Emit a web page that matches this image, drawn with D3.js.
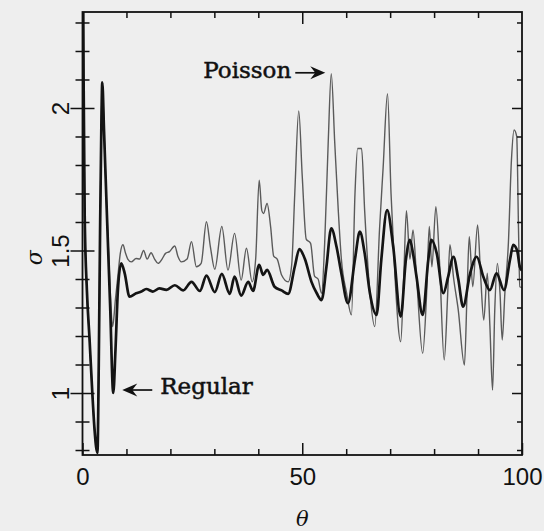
<!DOCTYPE html>
<html><head><meta charset="utf-8">
<script src="https://cdn.jsdelivr.net/npm/d3@7"></script>
<style>html,body{margin:0;padding:0;background:#eeeeee;} svg{display:block}</style>
</head><body>
<svg id="chart" width="544" height="531"></svg>
<script>
// ---- data ----
const xTickMajor = [0, 50, 100];
const xTickMinor = [10, 20, 30, 40, 60, 70, 80, 90];
const yTickMajor = [1, 1.5, 2];
const yTickMinor = [0.8, 0.9, 1.1, 1.2, 1.3, 1.4, 1.6, 1.7, 1.8, 1.9, 2.1, 2.2, 2.3];

const thetaPoisson = [0, 0.25, 0.5, 1.0, 1.6, 2.2, 2.7, 3.1, 3.4, 3.7, 4.0, 4.3, 4.5,
  4.9, 5.5, 6.3, 6.85, 7.5, 8.05, 8.6, 9.2, 9.8, 10.3, 11.1, 12.2, 13.0, 13.9, 14.7, 15.6, 16.4, 17.2, 18.1, 18.9, 19.8,
  21.0, 21.7, 22.5, 23.8, 24.8, 25.9, 27.0, 28.2, 29.1, 30.1, 31.7, 33.1, 34.6, 36.1, 37.3, 38.6, 39.4, 40.2, 40.8, 41.2,
  42.0, 42.8, 43.5, 44.3, 45.3, 46.8, 47.6, 48.3, 49.2, 50.0, 50.9, 51.9, 52.8, 53.6, 54.4, 55.1, 55.9, 56.6, 57.4, 58.2,
  58.9, 60.1, 61.2, 62.0, 62.6, 63.5, 64.2, 65.4, 66.5, 67.6, 68.4, 69.4, 70.2, 71.1, 72.4, 73.1, 73.7, 74.5, 75.2, 76.0,
  77.4, 78.3, 78.9, 79.5, 80.4, 81.2, 82.3, 83.1, 83.6, 84.4, 85.5, 86.9, 87.5, 88.0, 88.8, 89.9, 90.6, 91.3, 92.1, 92.7,
  93.3, 93.8, 94.4, 95.0, 95.5, 96.1, 96.9, 97.6, 98.2, 98.8, 99.2, 99.5, 100];
const sigmaPoisson = [2.9, 2.1, 1.62, 1.36, 1.19, 1.01, 0.88, 0.81, 0.79, 1.1, 1.57, 1.95, 2.09,
  1.92, 1.65, 1.36, 1.233, 1.33, 1.41, 1.49, 1.52, 1.49, 1.47, 1.46, 1.472, 1.47, 1.50, 1.47, 1.492, 1.47, 1.455, 1.47, 1.49, 1.496,
  1.516, 1.48, 1.46, 1.47, 1.531, 1.443, 1.455, 1.601, 1.513, 1.434, 1.584, 1.431, 1.56, 1.396, 1.508, 1.39, 1.47, 1.747, 1.64, 1.63,
  1.665, 1.584, 1.48, 1.47, 1.414, 1.39, 1.45, 1.70, 1.99, 1.76, 1.54, 1.525, 1.41, 1.40, 1.35, 1.525, 1.876, 2.12, 1.876, 1.64,
  1.47, 1.35, 1.274, 1.70, 1.858, 1.858, 1.64, 1.35, 1.233, 1.58, 1.79, 2.05, 1.70, 1.408, 1.18, 1.41, 1.64, 1.47, 1.572, 1.408,
  1.139, 1.35, 1.584, 1.443, 1.654, 1.47, 1.116, 1.35, 1.52, 1.408, 1.291, 1.098, 1.35, 1.548, 1.373, 1.59, 1.408, 1.256, 1.42, 1.233,
  1.01, 1.29, 1.455, 1.35, 1.186, 1.35, 1.525, 1.818, 1.923, 1.90, 1.58, 1.373, 1.37];

const thetaRegular = [0, 0.25, 0.5, 1.0, 1.6, 2.2, 2.7, 3.1, 3.4, 3.7, 4.0, 4.3, 4.5,
  4.9, 5.5, 6.3, 7.0, 7.5, 8.05, 8.8, 9.6, 10.7, 12.2, 13.4, 14.5, 16.0, 17.5, 19.1, 21.0, 22.9, 24.8, 26.7, 28.2, 30.1,
  31.7, 33.5, 34.6, 36.1, 37.7, 38.8, 40.2, 41.1, 42.0, 43.7, 45.3, 46.8, 48.3, 49.35, 50.6, 52.1, 53.3, 54.4, 55.5, 56.6,
  57.8, 58.9, 60.4, 62.0, 63.1, 64.2, 65.4, 66.9, 68.0, 69.3, 70.7, 72.4, 73.6, 74.5, 75.2, 76.0, 77.4, 78.7, 79.4, 80.6,
  82.1, 83.2, 84.4, 85.5, 86.6, 88.2, 89.7, 91.2, 92.7, 94.2, 95.9, 97.3, 98.0, 98.9, 99.5, 100];
const sigmaRegular = [2.9, 2.1, 1.62, 1.36, 1.19, 1.01, 0.88, 0.81, 0.79, 1.1, 1.57, 1.95, 2.09,
  1.92, 1.65, 1.3, 1.0, 1.15, 1.36, 1.455, 1.42, 1.338, 1.35, 1.356, 1.365, 1.356, 1.367, 1.362, 1.378, 1.36, 1.39, 1.358, 1.412, 1.354,
  1.418, 1.348, 1.408, 1.342, 1.39, 1.358, 1.45, 1.414, 1.432, 1.373, 1.36, 1.348, 1.443, 1.505, 1.47, 1.39, 1.35, 1.326, 1.443, 1.578,
  1.513, 1.42, 1.315, 1.47, 1.566, 1.49, 1.35, 1.274, 1.47, 1.642, 1.513, 1.268, 1.47, 1.537, 1.49, 1.408, 1.274, 1.47, 1.537, 1.49,
  1.35, 1.408, 1.478, 1.40, 1.303, 1.42, 1.478, 1.408, 1.361, 1.42, 1.361, 1.47, 1.52, 1.50, 1.443, 1.43];

// ---- layout ----
const svg = d3.select("#chart");
const L = 82.5, R = 522, T = 12, B = 455;
const x = d3.scaleLinear().domain([0, 100]).range([L, R]);
const y = d3.scaleLinear().domain([0.7825, 2.3368]).range([B, T]);
const sans = "'Liberation Sans', Arial, Helvetica, sans-serif";
const serif = "'DejaVu Serif', serif";

svg.append("defs").append("clipPath").attr("id", "clip")
  .append("rect").attr("x", L).attr("y", T).attr("width", R - L).attr("height", B - T);

// ---- curves ----
const line = d3.line().x(d => x(d[0])).y(d => y(d[1])).curve(d3.curveMonotoneX);
const gLines = svg.append("g").attr("clip-path", "url(#clip)");
gLines.append("path").datum(d3.zip(thetaPoisson, sigmaPoisson))
  .attr("d", line).attr("fill", "none").attr("stroke", "#5a5a5a").attr("stroke-width", 1.4)
  .attr("stroke-linejoin", "round");
gLines.append("path").datum(d3.zip(thetaRegular, sigmaRegular))
  .attr("d", line).attr("fill", "none").attr("stroke", "#141414").attr("stroke-width", 2.7)
  .attr("stroke-linejoin", "round");

// ---- frame ----
svg.append("rect").attr("x", L).attr("y", T).attr("width", R - L).attr("height", B - T)
  .attr("fill", "none").attr("stroke", "#111").attr("stroke-width", 1.8);

function styleAxis(g) {
  g.select(".domain").remove();
  g.selectAll("line").attr("stroke", "#111").attr("stroke-width", 1.5);
}

// bottom axis: labels + major ticks inward
const gB = svg.append("g").attr("transform", `translate(0,${B})`)
  .call(d3.axisBottom(x).tickValues(xTickMajor).tickSize(-12).tickFormat(d3.format("d")));
styleAxis(gB);
gB.selectAll("text").attr("y", 30).attr("dy", 0).attr("font-family", sans).attr("font-size", 24).attr("fill", "#111");
svg.append("g").attr("transform", `translate(0,${B})`)
  .call(d3.axisBottom(x).tickValues(xTickMinor).tickSize(-6).tickFormat("")).call(styleAxis);

// top axis
svg.append("g").attr("transform", `translate(0,${T})`)
  .call(d3.axisTop(x).tickValues([50]).tickSize(-12).tickFormat("")).call(styleAxis);
svg.append("g").attr("transform", `translate(0,${T})`)
  .call(d3.axisTop(x).tickValues(xTickMinor).tickSize(-6).tickFormat("")).call(styleAxis);

// left axis: ticks crossing the axis, rotated labels
const gL = svg.append("g").attr("transform", `translate(${L},0)`)
  .call(d3.axisLeft(y).tickValues(yTickMajor).tickSize(12).tickFormat(d => String(d)));
styleAxis(gL);
gL.selectAll("line").attr("x1", -12).attr("x2", 12);
gL.selectAll("text").attr("x", 0).attr("dy", 0).attr("text-anchor", "middle")
  .attr("transform", "translate(-14,0) rotate(-90)")
  .attr("font-family", sans).attr("font-size", 24).attr("fill", "#111");
const gLm = svg.append("g").attr("transform", `translate(${L},0)`)
  .call(d3.axisLeft(y).tickValues(yTickMinor).tickSize(7).tickFormat(""));
styleAxis(gLm);
gLm.selectAll("line").attr("x1", -7).attr("x2", 7);

// right axis: inward ticks
svg.append("g").attr("transform", `translate(${R},0)`)
  .call(d3.axisRight(y).tickValues(yTickMajor).tickSize(-10).tickFormat("")).call(styleAxis);
svg.append("g").attr("transform", `translate(${R},0)`)
  .call(d3.axisRight(y).tickValues(yTickMinor).tickSize(-5).tickFormat("")).call(styleAxis);

// ---- axis titles ----
svg.append("text").attr("transform", `translate(42,${(y(1.5) + y(1.45)) / 2}) rotate(-90)`)
  .attr("text-anchor", "middle").attr("font-family", serif).attr("font-style", "italic")
  .attr("font-size", 22).attr("fill", "#111").text("σ");
svg.append("text").attr("x", x(50)).attr("y", 526).attr("text-anchor", "middle")
  .attr("font-family", serif).attr("font-style", "italic").attr("font-size", 21)
  .attr("fill", "#111").text("θ");

// ---- annotations ----
function arrow(x0, y0, x1, y1) {
  const a = Math.atan2(y1 - y0, x1 - x0);
  const g = svg.append("g").attr("transform", `translate(${x1},${y1}) rotate(${a * 180 / Math.PI})`);
  const len = Math.hypot(x1 - x0, y1 - y0);
  g.append("line").attr("x1", -len).attr("y1", 0).attr("x2", -8).attr("y2", 0)
    .attr("stroke", "#111").attr("stroke-width", 1.7);
  g.append("path").attr("d", "M0,0 L-15,-6.5 L-10,0 L-15,6.5 Z").attr("fill", "#111");
}
// Poisson label points at its highest peak
const pkI = sigmaPoisson.indexOf(d3.max(sigmaPoisson.slice(13)));
const pX = x(thetaPoisson[pkI]), pY = y(sigmaPoisson[pkI]);
svg.append("text").attr("x", pX - 40).attr("y", pY + 4).attr("text-anchor", "end")
  .attr("font-family", serif).attr("font-size", 23).attr("fill", "#111")
  .attr("stroke", "#111").attr("stroke-width", 0.5).text("Poisson");
arrow(pX - 36, pY - 1, pX - 6, pY - 1);
// Regular label points at its first dip
const rX = x(7.0), rY = y(1.0);
arrow(rX + 39, rY - 3, rX + 9, rY - 3);
svg.append("text").attr("x", rX + 47).attr("y", rY + 1)
  .attr("font-family", serif).attr("font-size", 23).attr("fill", "#111")
  .attr("stroke", "#111").attr("stroke-width", 0.5).text("Regular");
</script>
</body></html>
